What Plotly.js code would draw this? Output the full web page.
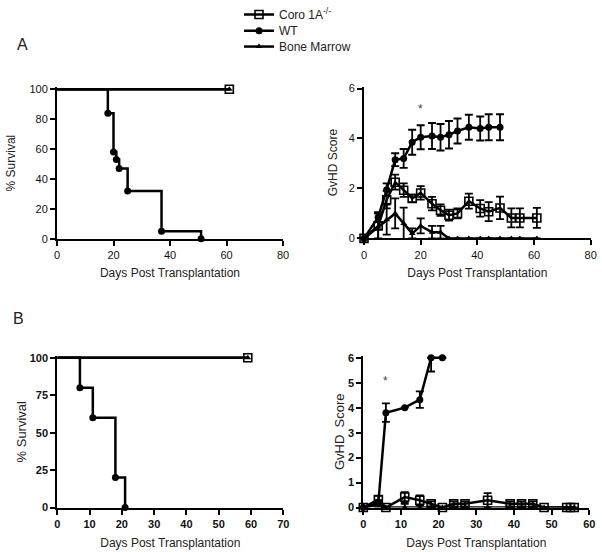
<!DOCTYPE html>
<html>
<head>
<meta charset="utf-8">
<script src="https://cdn.plot.ly/plotly-3.0.1.min.js"></script>
<style>html,body{margin:0;padding:0;background:#fff;}#chart{width:602px;height:552px;}</style>
</head>
<body>
<div id="chart"></div>
<script>
// ---------- Data ----------
// Panel A survival (%)
const survA_wt_days = [0, 18, 20, 21, 22, 25, 37, 51];
const survA_wt = [100, 84, 58, 53, 47, 32, 5, 0];
const survA_coro_days = [0, 61];
const survA_coro = [100, 100];
const survA_bm_days = [0, 61];
const survA_bm = [100, 100];

// Panel A GvHD score
const gvhdA_days = [0, 5, 8, 11, 14, 17, 20, 24, 27, 30, 33, 37, 41, 44, 48, 52, 55, 61];
const gvhdA_wt_days = [0, 5, 8, 11, 14, 17, 20, 24, 27, 30, 33, 37, 41, 44, 48];
const gvhdA_wt = [0, 0.85, 1.95, 3.15, 3.2, 3.85, 4.05, 4.1, 4.05, 4.15, 4.3, 4.45, 4.4, 4.45, 4.45];
const gvhdA_wt_err = [0, 0.2, 0.25, 0.26, 0.38, 0.5, 0.48, 0.52, 0.53, 0.55, 0.5, 0.5, 0.48, 0.52, 0.52];
const gvhdA_coro = [0, 0.5, 1.55, 2.25, 1.93, 1.6, 1.82, 1.39, 1.13, 0.93, 1.0, 1.49, 1.2, 1.07, 1.22, 0.82, 0.82, 0.82];
const gvhdA_coro_err = [0, 0.5, 0.35, 0.3, 0.27, 0.15, 0.27, 0.27, 0.23, 0.22, 0.2, 0.3, 0.33, 0.38, 0.45, 0.38, 0.38, 0.4];
const gvhdA_bm = [0, 0.45, 0.75, 1.0, 0.6, 0.2, 0.5, 0.25, 0.25, 0, 0, 0, 0, 0, 0, 0, 0, 0];
const gvhdA_bm_err = [0, 0.55, 0.6, 0.6, 0.63, 0.2, 0.3, 0.25, 0.25, 0, 0, 0, 0, 0, 0, 0, 0, 0];

// Panel B survival (%)
const survB_wt_days = [0, 7, 11, 18, 21];
const survB_wt = [100, 80, 60, 20, 0];
const survB_coro_days = [0, 59];
const survB_coro = [100, 100];
const survB_bm_days = [0, 59];
const survB_bm = [100, 100];

// Panel B GvHD score
const gvhdB_wt_days = [0, 4, 6, 11, 15, 18, 21];
const gvhdB_wt = [0, 0.2, 3.8, 4.0, 4.32, 6.0, 6.0];
const gvhdB_wt_err_plus = [0, 0.1, 0.37, 0, 0.33, 0, 0];
const gvhdB_wt_err_minus = [0, 0.1, 0.37, 0, 0.33, 0.55, 0];
const gvhdB_days = [0, 4, 6, 11, 15, 18, 21, 24, 27, 33, 39, 42, 45, 48, 54, 55, 56];
const gvhdB_coro = [0, 0.32, 0, 0.42, 0.29, 0.15, 0, 0.15, 0.15, 0.29, 0.15, 0.15, 0.15, 0, 0, 0, 0];
const gvhdB_coro_err = [0, 0.15, 0, 0.2, 0.2, 0.1, 0, 0.1, 0.1, 0.29, 0.1, 0.1, 0.1, 0, 0, 0, 0];
const gvhdB_bm = [0, 0.1, 0, 0, 0, 0, 0, 0, 0, 0, 0, 0, 0, 0, 0, 0, 0];
const gvhdB_bm_err = [0, 0.1, 0, 0.15, 0.1, 0, 0, 0, 0, 0, 0, 0, 0, 0, 0, 0, 0];

const seriesNames = ['Coro 1A<sup>-/-</sup>', 'WT', 'Bone Marrow'];
const xTitle = 'Days Post Transplantation';
const survTitle = '% Survival';
const gvhdTitle = 'GvHD Score';
const gvhdTitleB = 'GvHD\u00a0 Score';

// ---------- Styles ----------
const BLK = '#000';
const FONT = 'Liberation Sans, Arial, sans-serif';
const mkCoro = () => ({symbol: 'square-open', size: 8, color: BLK, opacity: 1, line: {width: 1.6, color: BLK}});
const mkWT = () => ({symbol: 'circle', size: 7, color: BLK, opacity: 1, line: {width: 0}});
const mkBM = () => ({symbol: 'triangle-up', size: 6, color: BLK, opacity: 1, line: {width: 0}});
const lineS = () => ({color: BLK, width: 2.5});
const stepS = () => ({color: BLK, width: 2.5, shape: 'hv'});

function err(arr, minus) {
  const e = {type: 'data', array: arr, visible: true, color: BLK, thickness: 1.8, width: 4};
  if (minus) { e.symmetric = false; e.arrayminus = minus; }
  return e;
}

const traces = [];
function survival(days, vals, mk, xa, ya, which) {
  traces.push({x: days, y: vals, xaxis: xa, yaxis: ya, mode: 'lines', line: stepS(), showlegend: false, cliponaxis: false, hoverinfo: 'skip'});
  const mx = which === 'last' ? days.slice(-1) : days.slice(1);
  const my = which === 'last' ? vals.slice(-1) : vals.slice(1);
  traces.push({x: mx, y: my, xaxis: xa, yaxis: ya, mode: 'markers', marker: mk, showlegend: false, cliponaxis: false});
}
// Panel A survival
survival(survA_bm_days, survA_bm, mkBM(), 'x', 'y', 'last');
survival(survA_coro_days, survA_coro, mkCoro(), 'x', 'y', 'last');
survival(survA_wt_days, survA_wt, mkWT(), 'x', 'y', 'rest');

// Panel A GvHD (legend traces)
traces.push({x: gvhdA_days, y: gvhdA_coro, error_y: err(gvhdA_coro_err), xaxis: 'x2', yaxis: 'y2', mode: 'lines+markers',
  line: lineS(), marker: mkCoro(), name: seriesNames[0], legend: 'legend', cliponaxis: false});
traces.push({x: gvhdA_wt_days, y: gvhdA_wt, error_y: err(gvhdA_wt_err), xaxis: 'x2', yaxis: 'y2', mode: 'lines+markers',
  line: lineS(), marker: mkWT(), name: seriesNames[1], legend: 'legend2', cliponaxis: false});
traces.push({x: gvhdA_days, y: gvhdA_bm, error_y: err(gvhdA_bm_err), xaxis: 'x2', yaxis: 'y2', mode: 'lines+markers',
  line: lineS(), marker: mkBM(), name: seriesNames[2], legend: 'legend3', cliponaxis: false});

// Panel B survival
survival(survB_bm_days, survB_bm, mkBM(), 'x3', 'y3', 'last');
survival(survB_coro_days, survB_coro, mkCoro(), 'x3', 'y3', 'last');
survival(survB_wt_days, survB_wt, mkWT(), 'x3', 'y3', 'rest');

// Panel B GvHD
traces.push({x: gvhdB_days, y: gvhdB_bm, error_y: err(gvhdB_bm_err), xaxis: 'x4', yaxis: 'y4', mode: 'lines+markers',
  line: lineS(), marker: mkBM(), showlegend: false, cliponaxis: false});
traces.push({x: gvhdB_days, y: gvhdB_coro, error_y: err(gvhdB_coro_err), xaxis: 'x4', yaxis: 'y4', mode: 'lines+markers',
  line: lineS(), marker: mkCoro(), showlegend: false, cliponaxis: false});
traces.push({x: gvhdB_wt_days, y: gvhdB_wt, error_y: err(gvhdB_wt_err_plus, gvhdB_wt_err_minus), xaxis: 'x4', yaxis: 'y4', mode: 'lines+markers',
  line: lineS(), marker: mkWT(), showlegend: false, cliponaxis: false});

const W = 602, H = 552;
const PAD = 0.012; // small headroom so lines at the top value are not clipped

function ax(opts, bold, titleSize) {
  return {
    showline: true, linewidth: 2, linecolor: BLK, ticks: 'outside', ticklen: 5, tickwidth: 2, tickcolor: BLK,
    showgrid: false, zeroline: false, fixedrange: true,
    tickfont: {family: FONT, size: 11, color: '#111', weight: bold ? 'bold' : 'normal'},
    title: {text: opts.titleText, standoff: opts.standoff, font: {family: FONT, size: titleSize || 12, color: '#222'}},
    domain: opts.domain, anchor: opts.anchor, range: opts.range, dtick: opts.dtick, tick0: 0
  };
}
const dx = (a, b) => [a / W, b / W];
// y domain given pixel of max value (top) and of 0 (bottom), with headroom
const dyPad = (top, bottom) => {
  const t = bottom - (bottom - top) * (1 + PAD);
  return [1 - bottom / H, 1 - t / H];
};
const legendAt = (rowY) => ({x: 239 / W, y: 1 - rowY / H, xanchor: 'left', yanchor: 'middle', bgcolor: 'rgba(0,0,0,0)',
  font: {family: FONT, size: 12, color: '#222'}, itemwidth: 30});

const layout = {
  width: W, height: H, margin: {l: 0, r: 0, t: 0, b: 0},
  paper_bgcolor: '#fff', plot_bgcolor: '#fff',
  font: {family: FONT, color: '#222'},
  showlegend: true,
  legend: legendAt(11.2),
  legend2: legendAt(27.8),
  legend3: legendAt(43.8),
  xaxis: ax({domain: dx(57, 283), anchor: 'y', range: [0, 80], dtick: 20, titleText: xTitle, standoff: 9}),
  yaxis: ax({domain: dyPad(86.7, 237), anchor: 'x', range: [0, 100 * (1 + PAD)], dtick: 20, titleText: survTitle, standoff: 11}),
  xaxis2: ax({domain: dx(364, 590.7), anchor: 'y2', range: [0, 80], dtick: 20, titleText: xTitle, standoff: 9}),
  yaxis2: ax({domain: dyPad(86, 236.7), anchor: 'x2', range: [0, 6 * (1 + PAD)], dtick: 2, titleText: gvhdTitle, standoff: 8}),
  xaxis3: ax({domain: dx(57.3, 283.3), anchor: 'y3', range: [0, 70], dtick: 10, titleText: xTitle, standoff: 10}, true),
  yaxis3: ax({domain: dyPad(356.7, 507.3), anchor: 'x3', range: [0, 100 * (1 + PAD)], dtick: 25, titleText: survTitle, standoff: 0}, true, 13),
  xaxis4: ax({domain: dx(363.3, 589.3), anchor: 'y4', range: [0, 60], dtick: 10, titleText: xTitle, standoff: 10}, true),
  yaxis4: ax({domain: dyPad(356.7, 507.3), anchor: 'x4', range: [0, 6 * (1 + PAD)], dtick: 1, titleText: gvhdTitleB, standoff: 0}, true, 13),
  annotations: [
    {text: 'A', xref: 'paper', yref: 'paper', x: 22.5 / W, y: 1 - 42 / H, xanchor: 'center', yanchor: 'middle', showarrow: false, font: {family: FONT, size: 16, color: '#222'}},
    {text: 'B', xref: 'paper', yref: 'paper', x: 18.5 / W, y: 1 - 317.5 / H, xanchor: 'center', yanchor: 'middle', showarrow: false, font: {family: FONT, size: 16, color: '#222'}},
    {text: '*', xref: 'x2', yref: 'y2', x: 20, y: 5.2, showarrow: false, font: {family: FONT, size: 12, color: '#444'}},
    {text: '*', xref: 'x4', yref: 'y4', x: 6, y: 5.05, showarrow: false, font: {family: FONT, size: 12, color: '#444'}}
  ]
};

Plotly.newPlot('chart', traces, layout, {staticPlot: true, displayModeBar: false});
</script>
</body>
</html>
